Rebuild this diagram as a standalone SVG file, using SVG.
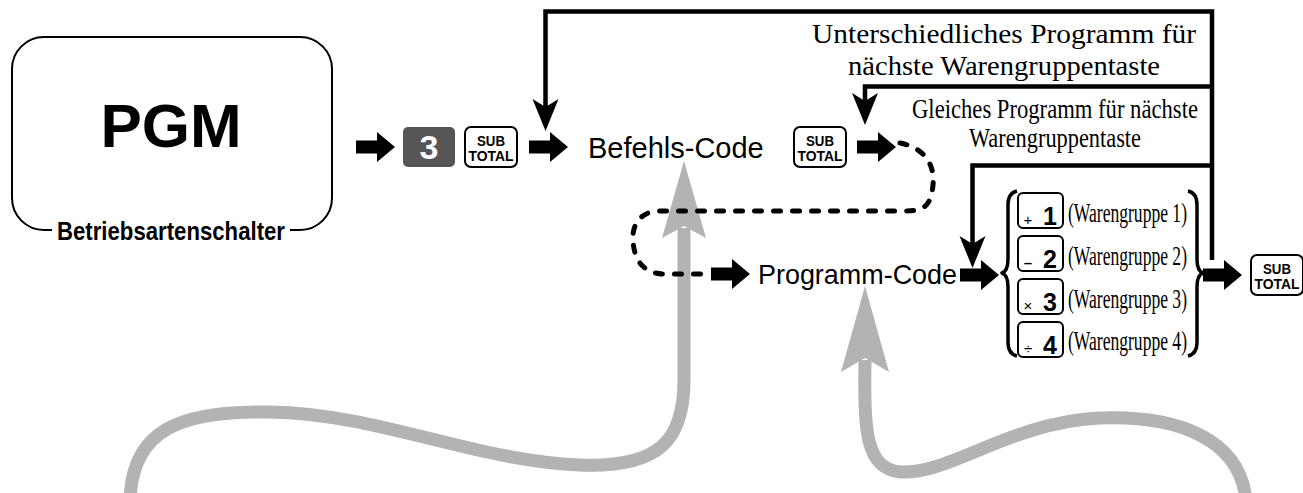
<svg xmlns="http://www.w3.org/2000/svg" xmlns:xlink="http://www.w3.org/1999/xlink" width="1303" height="493" viewBox="0 0 1303 493">
<style>
.sans{font-family:"Liberation Sans",Arial,sans-serif}
.serif{font-family:"Liberation Serif","Times New Roman",serif}
.b{font-weight:bold}
.key{fill:#fff;stroke:#000;stroke-width:2}
.line{fill:none;stroke:#000;stroke-width:4.5}
.gray{fill:none;stroke:#b3b3b3;stroke-width:13}
.grayhead{fill:#b3b3b3}
.dash{fill:none;stroke:#000;stroke-width:5;stroke-dasharray:7 12;stroke-linecap:round}
.brace{fill:none;stroke:#000;stroke-width:3.5;stroke-linejoin:round}
.st{font-size:14px;font-weight:bold;text-anchor:middle}
.wg{font-size:28px}
.dig{font-size:25px;font-weight:bold;text-anchor:middle}
.sym{font-size:15px;text-anchor:middle}
</style>
<defs>
<path id="blk" d="M0,-6.5 H21 V-15 L39,0 L21,15 V6.5 H0 Z"/>
<path id="vh" d="M0,0 L-13,-32 L0,-24 L13,-32 Z"/>
<g id="subtotal">
<rect class="key" x="0" y="0" width="52" height="40" rx="6"/>
<text class="sans st" x="26" y="18.5" textLength="28" lengthAdjust="spacingAndGlyphs">SUB</text>
<text class="sans st" x="26" y="33.5" textLength="45" lengthAdjust="spacingAndGlyphs">TOTAL</text>
</g>
<rect id="smallkey" class="key" x="0" y="0" width="45" height="35" rx="5"/>
</defs>
<rect width="1303" height="493" fill="#fff"/>

<g id="connectors">
<path class="gray" d="M130,500 C132,430 180,410 270,412 C380,414 470,460 580,465 C660,468 684,440 684,380 L684,228"/>
<polygon class="grayhead" points="684,161 662,238 684,226 706,238"/>
<path class="gray" d="M1246,500 C1240,440 1180,415 1100,418 C1010,422 950,475 900,472 C865,468 864,430 865,360"/>
<polygon class="grayhead" points="865,286 841,372 865,358 889,372"/>
<path class="dash" d="M900,143 C925,148 935,165 933,185 C931,205 925,211 905,211 L660,211 C640,211 632,225 633,240 C634,262 645,274 665,274 L705,274"/>
<path class="line" d="M1212,260 L1212,11.5 L545.5,11.5 L545.5,108"/>
<use xlink:href="#vh" transform="translate(545.5,131)"/>
<path class="line" d="M1212,86.5 L865,86.5 L865,102"/>
<use xlink:href="#vh" transform="translate(865,125)"/>
<path class="line" d="M1212,165.5 L972.5,165.5 L972.5,245"/>
<use xlink:href="#vh" transform="translate(972.5,268)"/>
<use xlink:href="#blk" transform="translate(356,147)"/>
<use xlink:href="#blk" transform="translate(529,147)"/>
<use xlink:href="#blk" transform="translate(857,147)"/>
<use xlink:href="#blk" transform="translate(711,274)"/>
<use xlink:href="#blk" transform="translate(960,275)"/>
<use xlink:href="#blk" transform="translate(1203,275)"/>
</g>

<g id="node-pgm">
<path d="M52,230 L44,230 A32,32 0 0 1 12,198 L12,69 A32,32 0 0 1 44,37 L300,37 A32,32 0 0 1 332,69 L332,198 A32,32 0 0 1 300,230 L290,230" fill="none" stroke="#000" stroke-width="2"/>
<text class="sans b" x="171" y="147" font-size="62" text-anchor="middle">PGM</text>
<text class="sans b" x="171" y="240" font-size="25" text-anchor="middle" textLength="228" lengthAdjust="spacingAndGlyphs">Betriebsartenschalter</text>
</g>

<g id="node-key3">
<rect x="403" y="127" width="52" height="40" rx="5" fill="#555"/>
<text class="sans b" x="429" y="159" font-size="34" fill="#fff" text-anchor="middle">3</text>
</g>

<g id="node-subtotal1"><use xlink:href="#subtotal" transform="translate(465,127)"/></g>

<g id="node-befehls">
<text class="sans" x="588" y="158" font-size="29">Befehls-Code</text>
</g>

<g id="node-subtotal2"><use xlink:href="#subtotal" transform="translate(794,127)"/></g>

<g id="node-programm">
<text class="sans" x="758" y="284" font-size="28" textLength="199" lengthAdjust="spacingAndGlyphs">Programm-Code</text>
</g>

<g id="label-unterschiedlich">
<text class="serif" x="1004" y="43" font-size="28" text-anchor="middle" textLength="384" lengthAdjust="spacingAndGlyphs">Unterschiedliches Programm für</text>
<text class="serif" x="1004" y="75" font-size="28" text-anchor="middle" textLength="312" lengthAdjust="spacingAndGlyphs">nächste Warengruppentaste</text>
</g>

<g id="label-gleiches">
<text class="serif" x="1055" y="118" font-size="26.5" text-anchor="middle" textLength="286" lengthAdjust="spacingAndGlyphs">Gleiches Programm für nächste</text>
<text class="serif" x="1055" y="147" font-size="26.5" text-anchor="middle" textLength="172" lengthAdjust="spacingAndGlyphs">Warengruppentaste</text>
</g>

<g id="node-departments">
<path class="brace" d="M1017,191 Q1008,193 1008,205 L1008,259 Q1008,271 1002,273 Q1008,275 1008,287 L1008,342 Q1008,354 1017,356"/>
<path class="brace" d="M1188,191 Q1197,193 1197,205 L1197,259 Q1197,271 1203,273 Q1197,275 1197,287 L1197,342 Q1197,354 1188,356"/>
<use xlink:href="#smallkey" transform="translate(1018,193)"/>
<text class="sans sym" x="1028" y="225">+</text>
<text class="sans dig" x="1050" y="225">1</text>
<text class="serif wg" x="1068" y="222" textLength="119" lengthAdjust="spacingAndGlyphs">(Warengruppe 1)</text>
<use xlink:href="#smallkey" transform="translate(1018,236)"/>
<text class="sans sym b" x="1028" y="268">–</text>
<text class="sans dig" x="1050" y="268">2</text>
<text class="serif wg" x="1068" y="265" textLength="119" lengthAdjust="spacingAndGlyphs">(Warengruppe 2)</text>
<use xlink:href="#smallkey" transform="translate(1018,279)"/>
<text class="sans sym" x="1028" y="311">×</text>
<text class="sans dig" x="1050" y="311">3</text>
<text class="serif wg" x="1068" y="308" textLength="119" lengthAdjust="spacingAndGlyphs">(Warengruppe 3)</text>
<use xlink:href="#smallkey" transform="translate(1018,322)"/>
<text class="sans sym" x="1028" y="354">÷</text>
<text class="sans dig" x="1050" y="354">4</text>
<text class="serif wg" x="1068" y="350" textLength="119" lengthAdjust="spacingAndGlyphs">(Warengruppe 4)</text>
</g>

<g id="node-subtotal3"><use xlink:href="#subtotal" transform="translate(1251,255)"/></g>
</svg>
